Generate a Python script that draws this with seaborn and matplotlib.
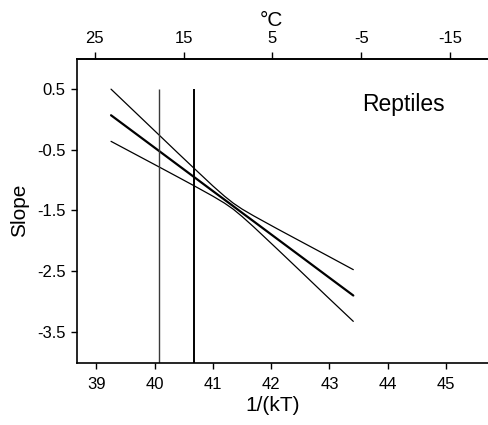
import matplotlib
matplotlib.use("Agg")
import matplotlib.pyplot as plt
import seaborn as sns
import pandas as pd

# ---- data ----
inv_kT = [39.25, 39.7, 40.07, 40.4, 40.68, 41.0, 41.2, 41.35, 41.5, 41.7, 42.1, 42.5, 42.95, 43.41]
slope_fit = [0.067, -0.254, -0.518, -0.754, -0.954, -1.183, -1.325, -1.432, -1.540, -1.682, -1.968, -2.253, -2.575, -2.903]
slope_upper = [0.497, 0.085, -0.254, -0.557, -0.811, -1.099, -1.268, -1.382, -1.479, -1.591, -1.802, -2.008, -2.239, -2.477]
slope_lower = [-0.363, -0.593, -0.782, -0.952, -1.097, -1.267, -1.382, -1.482, -1.601, -1.773, -2.134, -2.499, -2.912, -3.329]
vline_x = [40.07, 40.68]
vline_top = 0.5
x_ticks = [39, 40, 41, 42, 43, 44, 45]
y_ticks = [0.5, -0.5, -1.5, -2.5, -3.5]
top_ticks_C = [25, 15, 5, -5, -15]
label_text = "Reptiles"

df = pd.DataFrame({"x": inv_kT, "fit": slope_fit, "upper": slope_upper, "lower": slope_lower})

sns.set_style("ticks")
plt.rcParams["font.family"] = ["Liberation Sans", "DejaVu Sans"]
for key in ["text.color", "axes.labelcolor", "xtick.color", "ytick.color", "axes.edgecolor"]:
    plt.rcParams[key] = "black"

fig = plt.figure(figsize=(4.89, 4.25), dpi=100)
ax = fig.add_axes([0.1568, 0.1466, 0.8432, 0.7146])

sns.lineplot(data=df, x="x", y="upper", ax=ax, color="black", linewidth=0.9, sort=False)
sns.lineplot(data=df, x="x", y="lower", ax=ax, color="black", linewidth=0.9, sort=False)
sns.lineplot(data=df, x="x", y="fit", ax=ax, color="black", linewidth=1.6, sort=False)

ymin, ymax = -4.01, 0.994
ax.vlines(vline_x[0], ymin, vline_top, color="#3a3a3a", linewidth=1.0)
ax.vlines(vline_x[1], ymin, vline_top, color="black", linewidth=1.4)

ax.set_xlim(38.66, 45.74)
ax.set_ylim(ymin, ymax)
ax.set_xticks(x_ticks)
ax.set_xticklabels([str(v) for v in x_ticks])
ax.set_yticks(y_ticks)
ax.set_yticklabels([str(v) for v in y_ticks])
ax.tick_params(axis="x", length=4, width=1, pad=6, labelsize=12)
ax.tick_params(axis="y", length=4, width=1, pad=4, labelsize=12)

for s in ["left", "bottom", "top"]:
    ax.spines[s].set_linewidth(1.2)
    ax.spines[s].set_color("black")
ax.spines["right"].set_visible(False)
ax.spines["top"].set_visible(True)

ax.set_xlabel("1/(kT)", fontsize=15)
ax.set_ylabel("Slope", fontsize=15)
ax.xaxis.label.set_va("center")
ax.xaxis.set_label_coords(0.475, -0.1416)
ax.yaxis.label.set_va("center")
ax.yaxis.set_label_coords(-0.1375, 0.503)

x0, dx = 38.97, 0.1525
secax = ax.secondary_xaxis("top", functions=(lambda x: 25 - (x - x0) / dx,
                                              lambda c: x0 + (25 - c) * dx))
secax.set_xticks(top_ticks_C)
secax.set_xticklabels([str(v) for v in top_ticks_C])
secax.tick_params(axis="x", length=5, width=1, pad=4.5, labelsize=12)
secax.spines["top"].set_linewidth(1.2)
ax.text(0.473, 1.128, "\u00b0C", transform=ax.transAxes, ha="center", va="center", fontsize=15)

ax.text(43.56, 0.236, label_text, ha="left", va="center", fontsize=16.5)

fig.savefig("out.png", dpi=100)
